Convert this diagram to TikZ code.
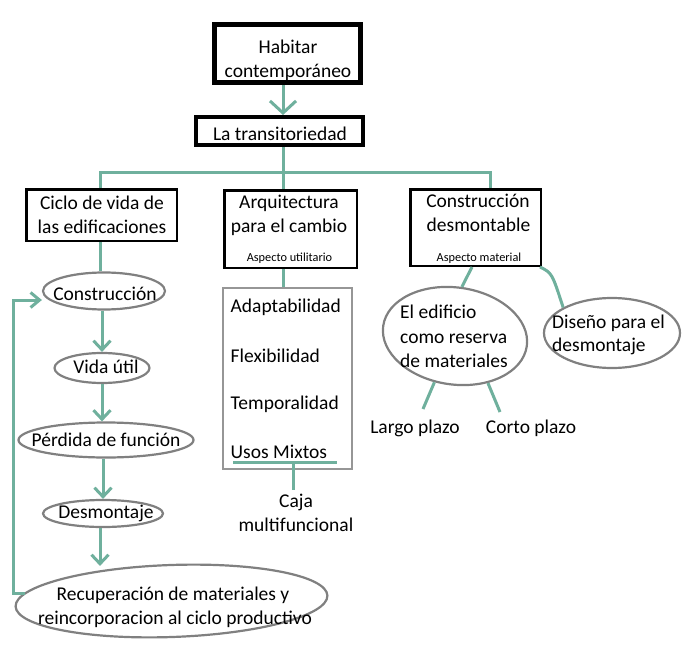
\documentclass[tikz,border=0pt]{standalone}
\usepackage{fontspec}
\setmainfont{Carlito}
\usetikzlibrary{arrows.meta,shapes.geometric}
\definecolor{teal1}{RGB}{111,176,157}
\definecolor{ellgray}{RGB}{128,128,128}
\definecolor{boxgray}{RGB}{150,150,150}
\tikzset{
  tl/.style={draw=teal1, line width=3pt},
  arr/.style={tl, -{Straight Barb[length=9pt,width=17pt]}},
  bigarr/.style={tl, -{Straight Barb[length=12pt,width=26pt]}},
  blackbox/.style={draw=black, line width=2.5pt, inner sep=0pt, rectangle},
  ell/.style={ellipse, draw=ellgray, line width=2.2pt, inner sep=0pt},
  txt/.style={inner sep=0pt, anchor=base, font=\fontsize{19.5}{24}\selectfont},
  txtl/.style={txt, anchor=base west},
  small/.style={inner sep=0pt, anchor=base, font=\fontsize{12.3}{14}\selectfont},
}
\begin{document}
\begin{tikzpicture}[x=1pt,y=-1pt]
\useasboundingbox[fill=white] (0,0) rectangle (683,645);

% top boxes
\node[blackbox, line width=5pt, minimum width=146pt, minimum height=58pt] (hab) at (287.5,53.5) {};
\node[txt] (habt1) at (288,53) {Habitar};
\node[txt] (habt2) at (288,77) {contemporáneo};
\node[blackbox, line width=4pt, minimum width=167pt, minimum height=28pt] (trans) at (279.5,131) {};
\node[txt] (transt) at (280,140) {La transitoriedad};
\draw[bigarr] ([xshift=-4.5pt]hab.south) -- ([xshift=-4.5pt]hab.south |- trans.north);

% branch
\coordinate (hub) at (283,172);
\coordinate (s1) at (100,172);
\coordinate (s3) at (490,172);

% three category boxes
\node[blackbox, minimum width=150.5pt, minimum height=51.5pt] (ciclo) at (101.5,215) {};
\node[txt] (ciclot1) at (102,209) {Ciclo de vida de};
\node[txt] (ciclot2) at (102,233) {las edificaciones};

\node[blackbox, minimum width=132.5pt, minimum height=77.5pt] (arq) at (290.5,229) {};
\node[txt] (arqt1) at (289,208) {Arquitectura};
\node[txt] (arqt2) at (289,232) {para el cambio};
\node[small] (arqt3) at (289.5,261) {Aspecto utilitario};

\node[blackbox, minimum width=130.5pt, minimum height=76.5pt] (desm) at (475.5,227.5) {};
\node[txt] (desmt1) at (478,207) {Construcción};
\node[txt] (desmt2) at (478.5,231) {desmontable};
\node[small] (desmt3) at (479,261) {Aspecto material};

\draw[tl] ([xshift=3.5pt]trans.south) -- (hub);
\draw[tl] (s1 |- ciclo.north) -- (s1) -- (s3) -- (s3 |- desm.north);
\draw[tl] (hub) -- (hub |- arq.north);

% ciclo column
\node[ell, minimum width=122pt, minimum height=37pt] (cons) at (104,291) {};
\node[txt] (const) at (105,300) {Construcción};
\node[ell, minimum width=95pt, minimum height=30pt] (vida) at (102,368) {};
\node[txt] (vidat) at (106,373) {Vida útil};
\node[ell, minimum width=175pt, minimum height=35pt] (perd) at (106,440) {};
\node[txt] (perdt) at (106,446) {Pérdida de función};
\node[ell, minimum width=120pt, minimum height=27pt] (desmo) at (103,513.5) {};
\node[txt] (desmot) at (106,518) {Desmontaje};
\node[ell, rotate=2, minimum width=312pt, minimum height=72pt] (recu) at (171.5,601) {};
\node[txt] (recut1) at (173,600) {Recuperación de materiales y};
\node[txt] (recut2) at (175,624) {reincorporacion al ciclo productivo};

\draw[tl] (s1 |- ciclo.south) -- (s1 |- cons.north);
\draw[arr] ([xshift=-2pt]cons.south) -- ([xshift=-2pt]cons.south |- vida.north);
\draw[arr] (vida.south) -- (vida.south |- perd.north);
\draw[arr] ([xshift=-3pt]perd.south) -- ([xshift=-3pt]perd.south |- desmo.north);
\draw[arr] ([xshift=-3pt]desmo.south) -- ([xshift=-3pt,yshift=-2pt]desmo.south |- recu.north);
\coordinate (lp) at (13,300);
\coordinate (lq) at (25,593);
\draw[tl, -{Straight Barb[length=9pt,width=15pt]}] (lq) -- (lq -| lp) -- (lp) -- (lp -| cons.west);

% arquitectura list
\node[draw=boxgray, line width=2pt, rectangle, inner sep=0pt, minimum width=129pt, minimum height=181pt] (list) at (287.5,378.5) {};
\draw[tl] (arq.south -| hub) -- (list.north -| hub);
\node[txtl] (it1) at (230.5,312) {Adaptabilidad};
\node[txtl] (it2) at (230.5,362) {Flexibilidad};
\node[txtl] (it3) at (230.5,409) {Temporalidad};
\node[txtl] (it4) at (230.5,458) {Usos Mixtos};
\coordinate (ul1) at (233,462);
\coordinate (ul2) at (337,462);
\coordinate (ulm) at (293,462);
\draw[tl] (ul1) -- (ul2);
\node[txt] (caja1) at (296,507) {Caja};
\node[txt] (caja2) at (296,531) {multifuncional};
\draw[tl] (ulm) -- (ulm |- 0,490);

% construccion desmontable branch
\node[ell, rotate=-8, minimum width=145pt, minimum height=97pt] (res) at (455,336) {};
\node[txtl] (rest1) at (400,318) {El edificio};
\node[txtl] (rest2) at (400,343) {como reserva};
\node[txtl] (rest3) at (400,367) {de materiales};
\node[ell, minimum width=136pt, minimum height=70pt] (dis) at (612,333) {};
\node[txtl] (dist1) at (552,328) {Diseño para el};
\node[txtl] (dist2) at (552,351) {desmontaje};
\draw[tl] ([xshift=-3.5pt]desm.south) -- (res.north);
\draw[tl] ([xshift=-2pt]desm.south east) .. controls (552,273) .. (dis.north west);

\node[txt] (largo) at (415,433) {Largo plazo};
\node[txt] (corto) at (531,433) {Corto plazo};
\draw[tl] (res.254) -- ([shift={(8,-24)}]largo.base);
\draw[tl] (res.313) -- ([shift={(-31,-21)}]corto.base);
\end{tikzpicture}
\end{document}
